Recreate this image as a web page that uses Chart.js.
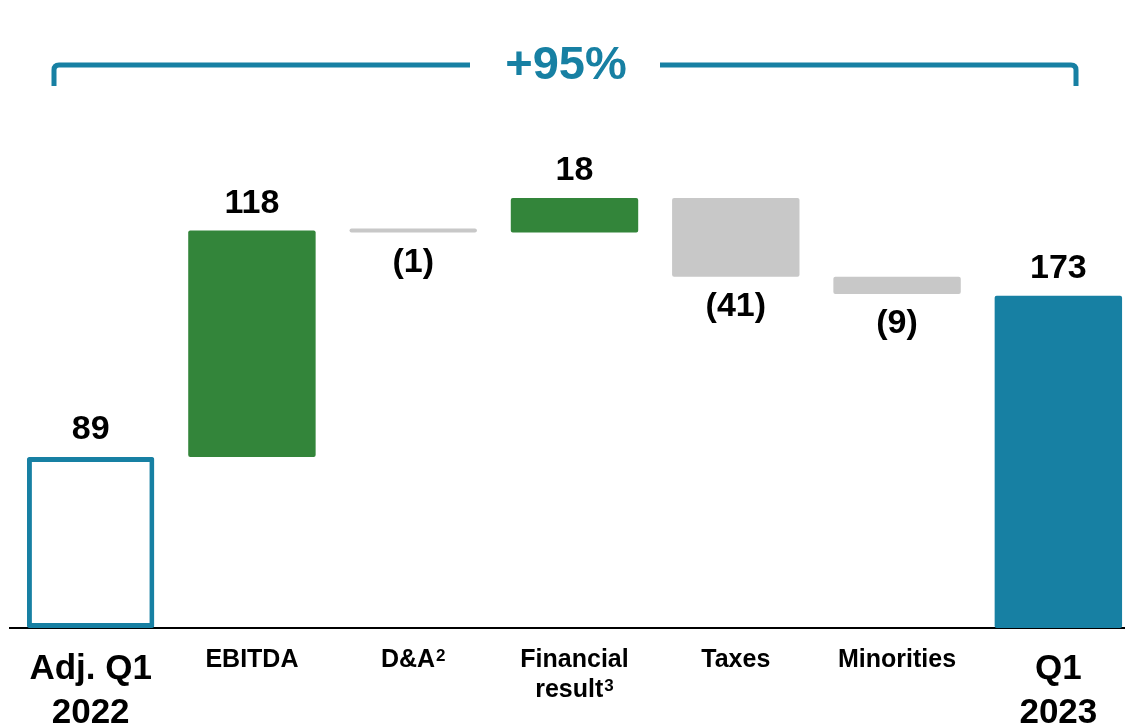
<!DOCTYPE html>
<html>
<head>
<meta charset="utf-8">
<script src="https://cdn.jsdelivr.net/npm/chart.js@4/dist/chart.umd.min.js"></script>
<style>
  html, body { margin: 0; padding: 0; background: #fff; overflow: hidden; }
  #wrap { width: 1125px; height: 724px; overflow: hidden; }
</style>
</head>
<body>
<div id="wrap"><canvas id="bridgeChart" width="1140" height="724"></canvas></div>
<script>
// bridge from Adj. Q1 2022 to Q1 2023
const categories = [['Adj. Q1', '2022'], ['EBITDA'], ['D&A²'], ['Financial', 'result³'], ['Taxes'], ['Minorities'], ['Q1', '2023']];
const deltas = [89, 118, -1, 18, -41, -9, 173];
const kinds = ['total', 'up', 'down', 'up', 'down', 'down', 'total'];
const valueLabels = ['89', '118', '(1)', '18', '(41)', '(9)', '173'];
const growthLabel = '+95%';

const TEAL = '#1780a3';
const GREEN = '#33853a';
const GREY = '#c8c8c8';
const FONT = '"Liberation Sans", Arial, sans-serif';

// floating ranges for the waterfall
let running = 0;
const ranges = deltas.map((d, i) => {
    if (kinds[i] === 'total') {
        running = d;
        return [0, d];
    }
    const start = running;
    running += d;
    return [start, running];
});

const fillColors = kinds.map((k, i) => i === 0 ? '#ffffff' : k === 'total' ? TEAL : k === 'up' ? GREEN : GREY);
const edgeColors = kinds.map((k, i) => i === 0 ? TEAL : 'rgba(0,0,0,0)');
const edgeWidths = kinds.map((k, i) => i === 0 ? 5 : 0);

// text with a trailing ² or ³ drawn as a real superscript
function drawLabel(ctx, text, x, y, size) {
    const m = text.match(/^(.*?)([²³])$/);
    if (!m) {
        ctx.textAlign = 'center';
        ctx.fillText(text, x, y);
        return;
    }
    const sup = m[2] === '²' ? '2' : '3';
    const supSize = Math.round(size * 0.68);
    ctx.font = 'bold ' + size + 'px ' + FONT;
    const w = ctx.measureText(m[1]).width;
    ctx.font = 'bold ' + supSize + 'px ' + FONT;
    const s = ctx.measureText(sup).width;
    const left = x - (w + s + 1) / 2;
    ctx.textAlign = 'left';
    ctx.font = 'bold ' + size + 'px ' + FONT;
    ctx.fillText(m[1], left, y);
    ctx.font = 'bold ' + supSize + 'px ' + FONT;
    ctx.fillText(sup, left + w + 1, y - size * 0.26);
    ctx.font = 'bold ' + size + 'px ' + FONT;
}

const labelsPlugin = {
    id: 'bridgeLabels',
    beforeDraw(chart) {
        const ctx = chart.ctx;
        ctx.save();
        // bracket
        ctx.strokeStyle = TEAL;
        ctx.lineWidth = 5;
        ctx.lineCap = 'butt';
        ctx.beginPath();
        ctx.moveTo(54, 86);
        ctx.lineTo(54, 70);
        ctx.quadraticCurveTo(54, 65, 59, 65);
        ctx.lineTo(470, 65);
        ctx.stroke();
        ctx.beginPath();
        ctx.moveTo(660, 65);
        ctx.lineTo(1071, 65);
        ctx.quadraticCurveTo(1076, 65, 1076, 70);
        ctx.lineTo(1076, 86);
        ctx.stroke();
        ctx.fillStyle = TEAL;
        ctx.font = 'bold 47px ' + FONT;
        ctx.textAlign = 'center';
        ctx.textBaseline = 'middle';
        ctx.fillText(growthLabel, 566, 66);
        ctx.restore();
    },
    afterDraw(chart) {
        const ctx = chart.ctx;
        const meta = chart.getDatasetMeta(0);
        const xScale = chart.scales.x;
        ctx.save();
        ctx.fillStyle = '#000';
        ctx.textAlign = 'center';
        ctx.textBaseline = 'middle';
        ctx.font = 'bold 34px ' + FONT;
        meta.data.forEach((bar, i) => {
            const top = Math.min(bar.y, bar.base);
            const bottom = Math.max(bar.y, bar.base);
            if (kinds[i] === 'down') {
                ctx.fillText(valueLabels[i], bar.x, bottom + 30);
            } else {
                ctx.fillText(valueLabels[i], bar.x, top - 27);
            }
        });
        // category labels
        ctx.textBaseline = 'alphabetic';
        categories.forEach((lines, i) => {
            const x = xScale.getPixelForValue(i);
            const big = kinds[i] === 'total';
            const size = big ? 35 : 25;
            ctx.font = 'bold ' + size + 'px ' + FONT;
            const first = big ? 679 : 667;
            const step = big ? 44 : 30;
            lines.forEach((t, j) => drawLabel(ctx, t, x, first + j * step, size));
        });
        ctx.restore();
    }
};

const ctx = document.getElementById('bridgeChart').getContext('2d');
const bridgeChart = new Chart(ctx, {
    type: 'bar',
    data: {
        labels: categories.map(c => c.join(' ')),
        datasets: [{
            data: ranges,
            backgroundColor: fillColors,
            borderColor: edgeColors,
            borderWidth: edgeWidths,
            borderSkipped: false,
            borderRadius: 2,
            minBarLength: 4,
            categoryPercentage: 1,
            barPercentage: 0.79
        }]
    },
    options: {
        responsive: false,
        animation: false,
        devicePixelRatio: 1,
        layout: {
            padding: { left: 10, right: 1, top: 52, bottom: 88 }
        },
        scales: {
            x: {
                offset: true,
                grid: { display: false },
                border: { display: true, color: '#000', width: 2 },
                ticks: { display: false }
            },
            y: {
                display: false,
                min: 0,
                max: 300
            }
        },
        plugins: {
            legend: { display: false },
            tooltip: { enabled: false }
        }
    },
    plugins: [labelsPlugin]
});
</script>
</body>
</html>
